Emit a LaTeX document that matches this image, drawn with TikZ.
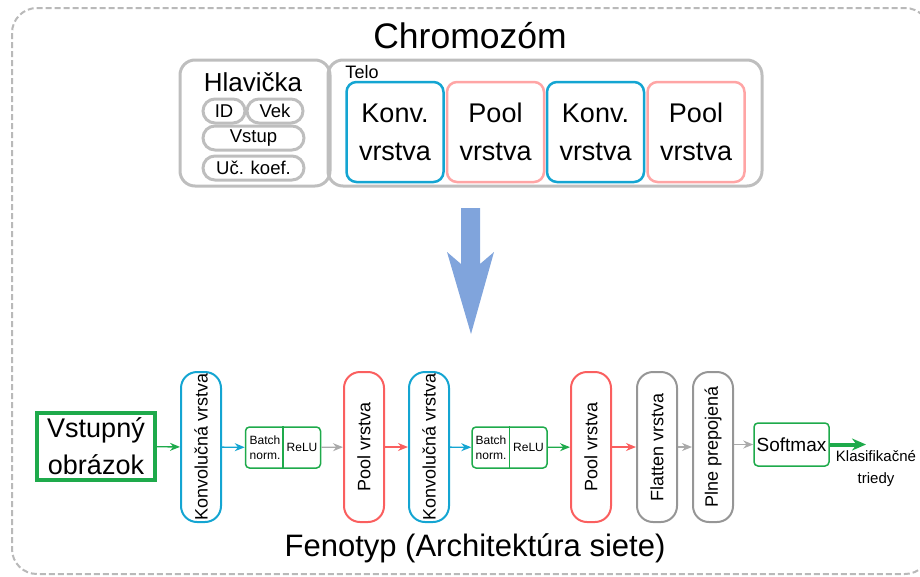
\documentclass[tikz,border=0pt]{standalone}
\usepackage{fontspec}
\setmainfont{Liberation Sans}
\usepackage{xcolor}
\usepackage{graphicx}
\usepackage{tikz}
\usetikzlibrary{arrows.meta}

\definecolor{framegray}{RGB}{185,185,185}
\definecolor{partgray}{RGB}{190,190,190}
\definecolor{convblue}{RGB}{20,165,210}
\definecolor{poolpink}{RGB}{255,165,165}
\definecolor{poolred}{RGB}{250,95,95}
\definecolor{layergray}{RGB}{150,150,150}
\definecolor{actgreen}{RGB}{30,170,75}
\definecolor{arrowblue}{RGB}{128,164,220}
\definecolor{linkgray}{RGB}{170,170,170}

\begin{document}
\begin{tikzpicture}[x=1pt,y=-1pt,
    part/.style={draw=partgray, line width=3pt, rounded corners=15pt, inner sep=0pt},
    pill/.style={draw=partgray, line width=3pt, rounded corners=12pt, inner sep=0pt, minimum height=24pt, font=\fontsize{18.5}{20}\selectfont},
    gene/.style={line width=2.5pt, rounded corners=10pt, inner sep=0pt, minimum width=97pt, minimum height=100pt, align=center, font=\fontsize{27}{38}\selectfont},
    layer/.style={line width=2pt, rounded corners=16pt, inner sep=0pt, minimum width=40pt, minimum height=150pt, font=\fontsize{18}{20}\selectfont},
    bnbox/.style={draw=actgreen, line width=1.5pt, rounded corners=4pt, inner sep=0pt, minimum width=75pt, minimum height=41pt},
    small/.style={inner sep=0pt, align=center, font=\fontsize{12}{15}\selectfont},
    link/.style={line width=1.3pt, -{Stealth[length=10pt,width=8pt]}}]
  \useasboundingbox (0,0) rectangle (920,576);
  \draw[framegray, line width=2pt, dash pattern=on 6pt off 3pt, rounded corners=25pt] (12,8) rectangle (930,574);

  % chromozom
  \node[font=\fontsize{35.5}{40}\selectfont] (chrom) at (470,36) {Chromozóm};
  \node[part, minimum width=150pt, minimum height=126pt] (hlav) at (255,123) {};
  \node[font=\fontsize{26}{30}\selectfont] (hlavt) at (253,82) {Hlavička};
  \node[pill, minimum width=42pt] (id) at (224,111) {ID};
  \node[pill, minimum width=56pt] (vek) at (275,111) {Vek};
  \node[pill, minimum width=101pt] (vstup) at (253.5,138) {Vstup};
  \node[pill, minimum width=101pt] (uckoef) at (253.5,168) {Uč. koef.};

  \node[part, minimum width=434pt, minimum height=126pt] (telo) at (545,123) {};
  \node[font=\fontsize{18}{20}\selectfont] (telot) at (362,72) {Telo};
  \node[gene, draw=convblue] (g1) at (395,132) {Konv.\\vrstva};
  \node[gene, draw=poolpink] (g2) at (495.5,132) {Pool\\vrstva};
  \node[gene, draw=convblue] (g3) at (595.5,132) {Konv.\\vrstva};
  \node[gene, draw=poolpink] (g4) at (696,132) {Pool\\vrstva};

  % sipka
  \fill[arrowblue] (461,208) -- (480,208) -- (480,264) -- (494,252) -- (471,334) -- (447,252) -- (461,264) -- cycle;

  % fenotyp
  \node[draw=actgreen, line width=3.5pt, minimum width=118pt, minimum height=67pt, inner sep=0pt, align=center, font=\fontsize{27}{37}\selectfont] (img) at (96,446.5) {Vstupný\\obrázok};
  \node[layer, draw=convblue] (conv1) at (201,447) {\rotatebox{90}{Konvolučná vrstva}};
  \node[bnbox] (bn1) at (283,447.5) {};
  \draw[actgreen, line width=1.2pt] (bn1.north) -- (bn1.south);
  \node[small] (bn1a) at (265,447.5) {Batch\\norm.};
  \node[small] (bn1b) at (302,447.5) {ReLU};
  \node[layer, draw=poolred] (pool1) at (364,447) {\rotatebox{90}{Pool vrstva}};
  \node[layer, draw=convblue] (conv2) at (429,447) {\rotatebox{90}{Konvolučná vrstva}};
  \node[bnbox] (bn2) at (509.5,447.5) {};
  \draw[actgreen, line width=1.2pt] (bn2.north) -- (bn2.south);
  \node[small] (bn2a) at (491,447.5) {Batch\\norm.};
  \node[small] (bn2b) at (528.5,447.5) {ReLU};
  \node[layer, draw=poolred] (pool2) at (591,447) {\rotatebox{90}{Pool vrstva}};
  \node[layer, draw=layergray] (flat) at (657,447) {\rotatebox{90}{Flatten vrstva}};
  \node[layer, draw=layergray] (dense) at (713,447) {\rotatebox{90}{Plne prepojená}};
  \node[draw=actgreen, line width=1.5pt, rounded corners=4pt, inner sep=0pt, minimum width=75pt, minimum height=43pt, font=\fontsize{19}{22}\selectfont] (soft) at (791.5,444.5) {Softmax};
  \coordinate (out) at (866,444.5);
  \node[align=center, inner sep=0pt, font=\fontsize{15}{22}\selectfont] (classes) at (876,469) {Klasifikačné\\triedy};

  \draw[link, actgreen] (img) -- (conv1);
  \draw[link, convblue] (conv1) -- (bn1);
  \draw[link, linkgray] (bn1) -- (pool1);
  \draw[link, poolred] (pool1) -- (conv2);
  \draw[link, convblue] (conv2) -- (bn2);
  \draw[link, actgreen] (bn2) -- (pool2);
  \draw[link, poolred] (pool2) -- (flat);
  \draw[link, linkgray] (flat) -- (dense);
  \draw[link, linkgray] (dense.east |- soft) -- (soft);
  \draw[actgreen, line width=4pt, -{Stealth[length=14pt,width=12pt]}] (soft) -- (out);

  \node[font=\fontsize{31}{34}\selectfont] (feno) at (475,548) {Fenotyp (Architektúra siete)};
\end{tikzpicture}
\end{document}
